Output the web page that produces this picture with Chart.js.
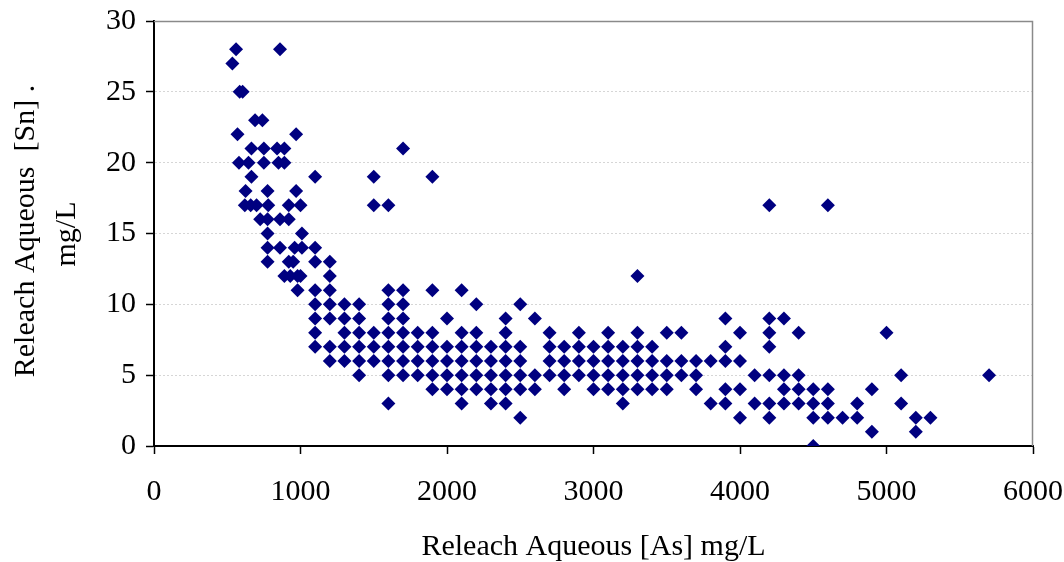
<!DOCTYPE html>
<html>
<head>
<meta charset="utf-8">
<script src="https://cdn.jsdelivr.net/npm/chart.js@4.4.1/dist/chart.umd.min.js"></script>
<style>
html,body{margin:0;padding:0;background:#ffffff;}
#wrap{width:1064px;height:562px;position:relative;}
</style>
</head>
<body>
<div id="wrap"><canvas id="c" width="1064" height="562"></canvas></div>
<script>
// Releach aqueous Sn level (mg/L) for each row of points
const snLevels = [28, 27, 25, 23, 22, 21, 20, 19, 18, 17, 16, 15, 14, 13, 12, 11, 10, 9, 8, 7, 6, 5, 4, 3, 2, 1, 0];
// Releach aqueous As values (mg/L) observed at each Sn level above
const asBySn = [
  [560, 860],
  [535],
  [585, 605],
  [690, 740],
  [570, 970],
  [665, 750, 840, 890, 1700],
  [580, 645, 750, 850, 890],
  [665, 1100, 1500, 1900],
  [625, 775, 970],
  [620, 660, 700, 780, 920, 1000, 1500, 1600, 4200, 4600],
  [725, 775, 860, 920],
  [775, 1010],
  [775, 860, 960, 1010, 1100],
  [775, 920, 950, 1100, 1200],
  [890, 930, 980, 1000, 1200, 3300],
  [980, 1100, 1200, 1600, 1700, 1900, 2100],
  [1100, 1200, 1300, 1400, 1600, 1700, 2200, 2500],
  [1100, 1200, 1300, 1400, 1600, 1700, 2000, 2400, 2600, 3900, 4200, 4300],
  [1100, 1300, 1400, 1500, 1600, 1700, 1800, 1900, 2100, 2200, 2400, 2700, 2900, 3100, 3300, 3500, 3600, 4000, 4200, 4400, 5000],
  [1100, 1200, 1300, 1400, 1500, 1600, 1700, 1800, 1900, 2000, 2100, 2200, 2300, 2400, 2500, 2700, 2800, 2900, 3000, 3100, 3200, 3300, 3400, 3900, 4200],
  [1200, 1300, 1400, 1500, 1600, 1700, 1800, 1900, 2000, 2100, 2200, 2300, 2400, 2500, 2700, 2800, 2900, 3000, 3100, 3200, 3300, 3400, 3500, 3600, 3700, 3800, 3900, 4000],
  [1400, 1600, 1700, 1800, 1900, 2000, 2100, 2200, 2300, 2400, 2500, 2600, 2700, 2800, 2900, 3000, 3100, 3200, 3300, 3400, 3500, 3600, 3700, 4100, 4200, 4300, 4400, 5100, 5700],
  [1900, 2000, 2100, 2200, 2300, 2400, 2500, 2600, 2800, 3000, 3100, 3200, 3300, 3400, 3500, 3700, 3900, 4000, 4300, 4400, 4500, 4600, 4900],
  [1600, 2100, 2300, 2400, 3200, 3800, 3900, 4100, 4200, 4300, 4400, 4500, 4600, 4800, 5100],
  [2500, 4000, 4200, 4500, 4600, 4700, 4800, 5200, 5300],
  [4900, 5200],
  [4500]
];
const xTickValues = [0, 1000, 2000, 3000, 4000, 5000, 6000];
const yTickValues = [0, 5, 10, 15, 20, 25, 30];
const xTitleText = 'Releach Aqueous [As] mg/L';
const yTitleLines = ['Releach Aqueous  [Sn] .', 'mg/L'];

const points = [];
snLevels.forEach((sn, i) => asBySn[i].forEach(as => points.push({x: as, y: sn})));

const FONT = "'Liberation Serif', 'Times New Roman', serif";
const TICK_SIZE = 30;
const TITLE_SIZE = 30;

const framePlugin = {
  id: 'frameAndTitles',
  afterDraw(chart) {
    const {ctx, chartArea: a} = chart;
    ctx.save();
    // top and right plot frame
    ctx.strokeStyle = '#8a8a8a';
    ctx.lineWidth = 1.5;
    ctx.beginPath();
    ctx.moveTo(a.left, a.top + 0.5);
    ctx.lineTo(a.right - 0.5, a.top + 0.5);
    ctx.lineTo(a.right - 0.5, a.bottom);
    ctx.stroke();
    // titles
    ctx.fillStyle = '#000';
    ctx.font = TITLE_SIZE + 'px ' + FONT;
    ctx.textAlign = 'center';
    ctx.textBaseline = 'middle';
    ctx.fillText(xTitleText, (a.left + a.right) / 2, 547);
    ctx.rotate(-Math.PI / 2);
    ctx.textBaseline = 'alphabetic';
    ctx.fillText(yTitleLines[0], -231, 34);
    ctx.fillText(yTitleLines[1], -234, 75);
    ctx.restore();
  }
};

const noScalePadding = s => { s.paddingLeft = 0; s.paddingRight = 0; s.paddingTop = 0; s.paddingBottom = 0; };

new Chart(document.getElementById('c'), {
  type: 'scatter',
  data: {
    datasets: [{
      data: points,
      pointStyle: 'rectRot',
      pointRadius: 7,
      pointBorderWidth: 0,
      backgroundColor: '#000080',
      borderColor: '#000080'
    }]
  },
  options: {
    responsive: false,
    animation: false,
    devicePixelRatio: 1,
    layout: {padding: {left: 0, top: 21, right: 31, bottom: 0}},
    plugins: {legend: {display: false}, tooltip: {enabled: false}},
    scales: {
      x: {
        type: 'linear',
        min: 0, max: 6000,
        afterBuildTicks: s => { s.ticks = xTickValues.map(v => ({value: v})); },
        afterFit: s => { s.height = 116; noScalePadding(s); },
        ticks: {color: '#000', font: {family: FONT, size: TICK_SIZE}, padding: 20, maxRotation: 0, autoSkip: false,
                callback: v => String(v)},
        grid: {drawOnChartArea: false, drawTicks: true, tickLength: 8, tickColor: '#000', tickWidth: 1.5},
        border: {color: '#000', width: 2}
      },
      y: {
        type: 'linear',
        min: 0, max: 30,
        afterBuildTicks: s => { s.ticks = yTickValues.map(v => ({value: v})); },
        afterFit: s => { s.width = 154; noScalePadding(s); },
        ticks: {color: '#000', font: {family: FONT, size: TICK_SIZE}, padding: 10, autoSkip: false,
                callback: v => String(v)},
        grid: {
          color: c => (c.tick && (c.tick.value === 30 || c.tick.value === 0)) ? 'rgba(0,0,0,0)' : '#d6d6d6',
          lineWidth: 1,
          tickLength: 8, tickColor: '#000', tickWidth: 1.5, tickBorderDash: []
        },
        border: {color: '#000', width: 2, dash: [2, 2]}
      }
    }
  },
  plugins: [framePlugin]
});
</script>
</body>
</html>
